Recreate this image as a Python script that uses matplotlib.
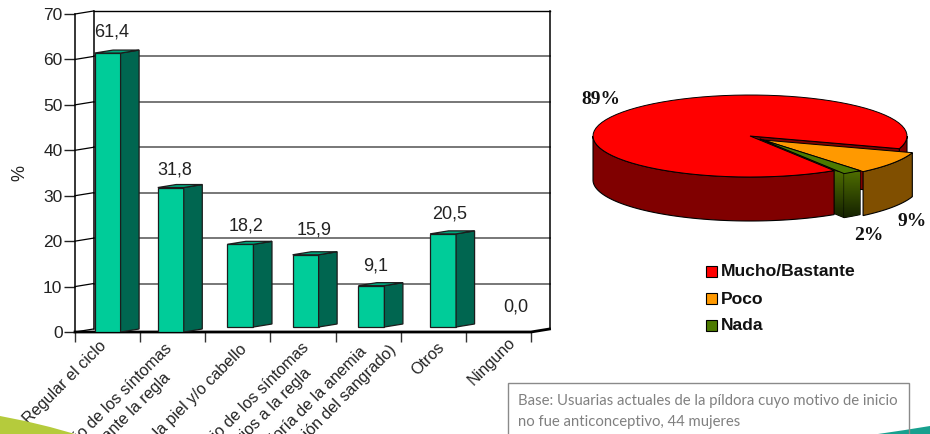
import numpy as np
import matplotlib
matplotlib.use('Agg')
import matplotlib.pyplot as plt
from matplotlib.patches import Polygon, Rectangle
from matplotlib.colors import LinearSegmentedColormap

categories = ['Regular el ciclo',
              'Alivio de los síntomas\ndurante la regla',
              'Mejorar la piel y/o cabello',
              'Alivio de los síntomas\nprevios a la regla',
              'Mejoría de la anemia\n(disminución del sangrado)',
              'Otros',
              'Ninguno']
values = [61.4, 31.8, 18.2, 15.9, 9.1, 20.5, 0.0]
value_labels = ['61,4', '31,8', '18,2', '15,9', '9,1', '20,5', '0,0']
y_ticks = [0, 10, 20, 30, 40, 50, 60, 70]

pie_names = ['Mucho/Bastante', 'Poco', 'Nada']
pie_values = [89, 9, 2]
pie_labels = ['89%', '9%', '2%']

W, H = 930, 434
SANS = 'Liberation Sans'
SERIF = 'Liberation Serif'

# the four middle bars float a little above the floor in the original
bar_base = [0, 0, 1.1, 1.1, 1.1, 1.1, 0]
bar_shift = [0, -0.03, 0.04, 0.04, 0.05, 0.15, 0]
label_off = [21, 18, 18, 25, 20, 20, 25]
label_dx = [4, 2, 8, 11, 7, 16, 17]
tick_dx = [-10, -10, 0, -3, 5, 2, 8]
tick_dy = [-6, -4, -3, -5, -16, -5, -10]
bar_w = 26 / 65.1
dep_x = 18.5 / 65.1
dep_y = 3 / 4.54


def px(x, y):
    return x / W, 1 - y / H


fig = plt.figure(figsize=(W / 100, H / 100), dpi=100)

# corner decoration of the slide
left_sw = [px(0, 416), px(25, 421), px(50, 427), px(75, 434), px(0, 434)]
right_sw = [px(878, 434), px(905, 430), px(930, 426), px(930, 434)]
fig.patches.append(Polygon(left_sw, closed=True, transform=fig.transFigure, fc='#b5cb3c', ec='none'))
fig.patches.append(Polygon(right_sw, closed=True, transform=fig.transFigure, fc='#17a08e', ec='none'))

# bar chart, axes = front plane
x0, y0 = px(75, 332)
x1, y1 = px(531, 14)
ax = fig.add_axes([x0, y0, x1 - x0, y1 - y0])
ax.patch.set_alpha(0)
ax.set_xlim(0, 7)
ax.set_ylim(0, 70)
for s in ['top', 'right']:
    ax.spines[s].set_visible(False)
ax.spines['left'].set_linewidth(1.1)
ax.spines['bottom'].set_linewidth(1.1)
ax.set_yticks(y_ticks)
ax.tick_params(axis='y', length=8, width=1, labelsize=12.5, pad=1, colors='#222222')
ax.set_xticks(range(8))
ax.set_xticklabels([])
ax.tick_params(axis='x', length=7, width=1, color='#333333')
ax.set_ylabel('%', fontsize=13, family=SANS, color='#222222')
ax.yaxis.set_label_coords(-0.103, 0.5)
for t in ax.get_yticklabels():
    t.set_family(SANS)

# back wall and side wall
for v in y_ticks:
    col, lw = ('black', 1.0) if v == 70 else ('#777777', 1.4)
    if v > 0:
        ax.plot([dep_x, 7 + dep_x], [v + dep_y, v + dep_y], color=col, lw=lw, clip_on=False, zorder=1)
    ax.plot([0, dep_x], [v, v + dep_y], color='black', lw=0.9, clip_on=False, zorder=1)
ax.plot([dep_x, dep_x], [dep_y, 70 + dep_y], color='black', lw=1.1, clip_on=False, zorder=1)
ax.plot([7 + dep_x, 7 + dep_x], [dep_y, 70 + dep_y], color='black', lw=1.1, clip_on=False, zorder=1)
ax.plot([0, 7, 7 + dep_x], [0, 0, dep_y], color='black', lw=2, clip_on=False, zorder=2)

front_col = '#00cc99'
side_col = '#006650'
top_col = '#00a67c'
for i, v in enumerate(values):
    left = i + 0.5 + bar_shift[i] - bar_w / 2
    if v > 0:
        base = bar_base[i]
        top = v + base
        ax.bar(left, top - base, bar_w, bottom=base, align='edge', color=front_col,
               edgecolor='#1c1c1c', linewidth=0.9, zorder=3)
        r = left + bar_w
        ax.add_patch(Polygon([(r, base), (r + dep_x, base + dep_y), (r + dep_x, top + dep_y), (r, top)],
                             closed=True, fc=side_col, ec='#1c1c1c', lw=0.9, zorder=3))
        ax.add_patch(Polygon([(left, top), (r, top), (r + dep_x, top + dep_y), (left + dep_x, top + dep_y)],
                             closed=True, fc=top_col, ec='#1c1c1c', lw=0.9, zorder=3))
        yy = top
    else:
        yy = 0
    ax.annotate(value_labels[i], (i + 0.5, yy), xytext=(label_dx[i] * 0.72, label_off[i] * 0.72),
                textcoords='offset points', ha='center', va='center', fontsize=13,
                family=SANS, color='#222222', annotation_clip=False, zorder=5)

# rotated labels under the axis
for i, name in enumerate(categories):
    ax.annotate(name, (i + 0.5, 0), xytext=(1 + tick_dx[i] * 0.72, -9 - tick_dy[i] * 0.72),
                textcoords='offset points', rotation=45,
                rotation_mode='anchor', ha='right', va='top', multialignment='center',
                fontsize=11.6, family=SANS, color='#222222', linespacing=1.4, annotation_clip=False)

# pie drawn by hand, the 3d look is not available from ax.pie
R = 157.0
squash = 41 / R
depth = 44 / R
pie_cx, pie_cy = 750, 136
xa, ya = px(570, 260)
xb, yb = px(930, 80)
ax2 = fig.add_axes([xa, ya, xb - xa, yb - ya])
ax2.axis('off')

explode = {0: (0, 0), 1: (13 / R, -4 / R), 2: (10 / R, -3 / R)}
tops = ['#ff0000', '#ff9900', '#4d7a00']
walls = ['#800000', '#804f00', '#3c5a00']


def rim(a0, a1, off):
    t = np.radians(np.linspace(a0, a1, 80))
    return np.column_stack([off[0] + np.cos(t), off[1] + squash * np.sin(t)])


def wedge(a0, a1, off, fc, z):
    pts = np.vstack([[off], rim(a0, a1, off)])
    ax2.add_patch(Polygon(pts, closed=True, fc=fc, ec='black', lw=0.7, zorder=z))


def side(a0, a1, off, fc, z):
    top = rim(a0, a1, off)
    low = top - [0, depth]
    p = Polygon(np.vstack([top, low[::-1]]), closed=True, fc=fc, ec='black', lw=0.8, zorder=z)
    ax2.add_patch(p)
    return p


def flat_wall(a, off, fc, z):
    edge = rim(a, a, off)[0]
    pts = [off, edge, edge - [0, depth], (off[0], off[1] - depth)]
    p = Polygon(pts, closed=True, fc=fc, ec='black', lw=0.8, zorder=z)
    ax2.add_patch(p)
    return p


green_map = LinearSegmentedColormap.from_list('g', ['#0a1400', '#4d6b00'])


def gradient(patch, z):
    img = ax2.imshow(np.linspace(1, 0, 100).reshape(-1, 1), cmap=green_map, aspect='auto', zorder=z,
                     extent=[-1.2, 1.2, -squash - depth - 0.03, -squash + 0.03])
    img.set_clip_path(patch)


start = -18
sweep = [v * 3.6 for v in pie_values]
red_a = (start, start + sweep[0])
or_a = (start - sweep[1], start)
gr_a = (start - sweep[1] - sweep[2], start - sweep[1])

# inner wall of red peeks out behind the orange slice
side(start, 0, explode[0], walls[0], 1)
flat_wall(start, explode[0], walls[0], 2)
side(or_a[0], or_a[1], explode[1], walls[1], 3)
wedge(or_a[0], or_a[1], explode[1], tops[1], 4)
p = flat_wall(gr_a[0], explode[2], walls[2], 5)
gradient(p, 5.1)
p = side(gr_a[0], gr_a[1], explode[2], walls[2], 6)
gradient(p, 6.1)
wedge(gr_a[0], gr_a[1], explode[2], tops[2], 7)
side(180, red_a[1], explode[0], walls[0], 8)
wedge(red_a[0], red_a[1], explode[0], tops[0], 9)
ax2.set_xlim((570 - pie_cx) / R, (930 - pie_cx) / R)
ax2.set_ylim((pie_cy - 260) / R, (pie_cy - 80) / R)

label_pos = [(601, 100), (912, 222), (869, 236)]
for lab, (lx, ly) in zip(pie_labels, label_pos):
    fig.text(*px(lx, ly), lab, ha='center', va='center', fontsize=14, family=SERIF,
             fontweight='bold', color='#111111')

# legend
leg_y = [272, 299, 326]
for name, col, ly in zip(pie_names, tops, leg_y):
    fig.patches.append(Rectangle(px(706, ly + 5), 11 / W, 11 / H, transform=fig.transFigure,
                                 fc=col, ec='black', lw=0.8))
    fig.text(*px(721, ly), name, ha='left', va='center', fontsize=12.6, family=SANS,
             fontweight='bold', color='#111111')

# base note
fig.patches.append(Rectangle(px(507.5, 440), 401 / W, 57 / H, transform=fig.transFigure,
                             fc='none', ec='#8a8a8a', lw=1.0, zorder=3))
fig.text(*px(518, 401), 'Base: Usuarias actuales de la píldora cuyo motivo de inicio',
         ha='left', va='center', fontsize=10.7, family='Lato', color='#808080')
fig.text(*px(518, 422), 'no fue anticonceptivo, 44 mujeres',
         ha='left', va='center', fontsize=10.7, family='Lato', color='#808080')

fig.savefig('out.png', dpi=100)
